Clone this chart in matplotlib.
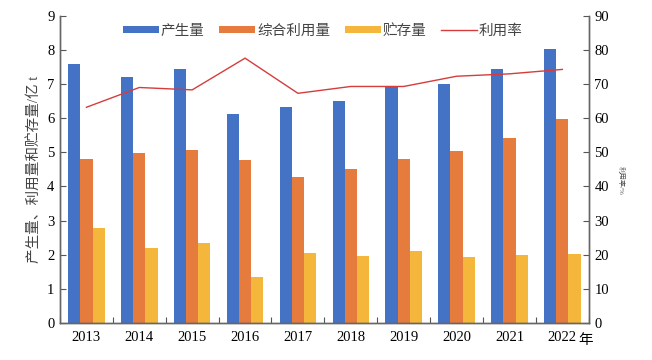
import matplotlib as mpl
mpl.use('Agg')
import matplotlib.pyplot as plt
import matplotlib.transforms as mtransforms
import numpy as np

years = ['2013', '2014', '2015', '2016', '2017', '2018', '2019', '2020', '2021', '2022']
produced = [7.58, 7.20, 7.45, 6.13, 6.33, 6.50, 6.95, 7.00, 7.43, 8.02]
utilized = [4.80, 4.98, 5.08, 4.77, 4.27, 4.52, 4.80, 5.05, 5.42, 5.97]
stored = [2.77, 2.20, 2.33, 1.35, 2.05, 1.97, 2.10, 1.92, 1.98, 2.03]
rate = [63.2, 69.0, 68.3, 77.6, 67.3, 69.3, 69.3, 72.3, 73.0, 74.3]

plt.rcParams['font.family'] = ['Liberation Serif', 'Noto Sans CJK SC', 'DejaVu Sans']

fig = plt.figure(figsize=(6.52, 3.6), dpi=100)
ax = fig.add_axes([0.092, 0.103, 0.811, 0.853])
ax2 = ax.twinx()

x = np.arange(len(years))
w = 0.23
c_blue = '#4472C4'
c_orange = '#E67B3E'
c_yellow = '#F5B73B'
c_line = '#D63C3C'

b1 = ax.bar(x - w, produced, w, color=c_blue, label='产生量')
b2 = ax.bar(x, utilized, w, color=c_orange, label='综合利用量')
b3 = ax.bar(x + w, stored, w, color=c_yellow, label='贮存量')
l1, = ax2.plot(x, rate, color=c_line, lw=1.0, label='利用率')

ax.set_xlim(-0.5, len(years) - 0.5)
ax.set_ylim(0, 9)
ax.set_yticks(range(0, 10))
ax2.set_ylim(0, 90)
ax2.set_yticks(range(0, 100, 10))

# x ticks at group boundaries, labels at centres
ax.set_xticks(np.arange(-0.5, len(years), 1.0))
ax.set_xticklabels([])
ax.set_xticks(x, minor=True)
ax.set_xticklabels(years, minor=True)
ax.tick_params(axis='x', which='minor', length=0, labelsize=10.5, pad=6)
ax.tick_params(axis='x', which='major', direction='in', length=4, color='#555555')
ax.tick_params(axis='y', direction='in', length=4, labelsize=10.5, color='#555555', pad=4)
ax2.tick_params(axis='y', direction='in', length=4, labelsize=10.5, color='#555555', pad=4)

for a in (ax, ax2):
    a.spines['top'].set_visible(False)
    for s in ('left', 'right', 'bottom'):
        a.spines[s].set_color('#666666')
        a.spines[s].set_linewidth(1.0)

# unit mark right after the last year label
trans = mtransforms.blended_transform_factory(ax.transData, ax.transAxes)
ax.text(len(years) - 1 + 0.31, -0.035, '年', transform=trans, ha='left', va='top', fontsize=10.5)

ax.set_ylabel('产生量、利用量和贮存量/亿 t', fontsize=10.5, color='#444444', labelpad=4)
fig.text(0.953, 0.5, '利用率/%', rotation=270, fontsize=5, color='#555555', ha='center', va='center')

fig.legend(handles=[b1, b2, b3, l1], loc='center left', bbox_to_anchor=(0.168, 0.915),
           ncol=4, frameon=False, fontsize=10.5, handlelength=2.5, handleheight=0.4,
           handletextpad=0.1, columnspacing=1.0, labelcolor='#444444')

fig.savefig('out.png', dpi=100)
